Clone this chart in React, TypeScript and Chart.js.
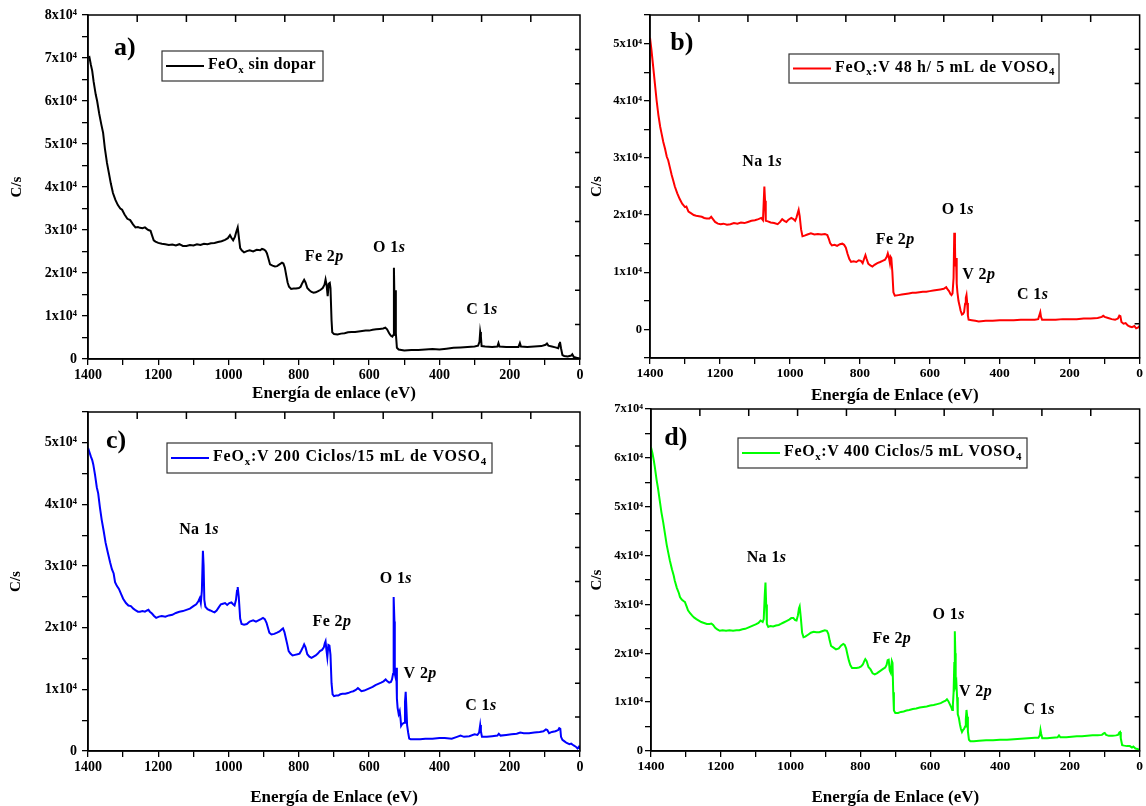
import React, { useEffect, useRef } from 'react';
import { Chart, registerables } from 'chart.js';

Chart.register(...registerables);

const FONT = '"Liberation Serif", "Times New Roman", serif';

// ---------------- DATA (binding energy eV, counts/s) ----------------
const spectrumA: [number, number][] = [
  [1400, 70000], [1396, 70200], [1392, 68500], [1388, 67000], [1384, 64500], [1378, 61500], [1374, 60000],
  [1368, 57000], [1362, 54500], [1357, 52600], [1352, 49000], [1346, 45600], [1340, 43000], [1335, 40800],
  [1329, 38600], [1322, 37000], [1315, 35800], [1308, 35000], [1303, 34700], [1296, 33600], [1288, 32600],
  [1280, 32300], [1272, 31300], [1265, 30600], [1258, 30700], [1252, 30500], [1245, 30400], [1238, 30600],
  [1232, 30200], [1228, 30000], [1222, 29800], [1218, 28800], [1213, 27600], [1208, 27300], [1200, 27000],
  [1190, 26800], [1180, 26700], [1170, 26500], [1160, 26600], [1150, 26400], [1140, 26700], [1130, 26300],
  [1120, 26300], [1110, 26500], [1100, 26400], [1090, 26700], [1080, 26500], [1070, 26800], [1060, 26700],
  [1050, 26900], [1040, 27000], [1030, 27200], [1020, 27400], [1010, 27700], [1002, 28100], [996, 28800],
  [992, 28200], [987, 27600], [982, 28400], [978, 29600], [974, 30600], [971, 28500], [967, 25800],
  [962, 25200], [956, 24800], [948, 25100], [940, 25300], [930, 25000], [920, 25400], [910, 25300],
  [905, 25600], [900, 25500], [895, 25200], [891, 24600], [887, 23500], [882, 22000], [875, 21700],
  [868, 21500], [862, 21600], [855, 22000], [848, 22400], [844, 22200], [840, 21300], [836, 19500],
  [832, 17800], [828, 16800], [822, 16300], [815, 16400], [808, 16400], [800, 16500], [795, 16800],
  [790, 17700], [785, 18400], [781, 17800], [776, 16500], [770, 16000], [764, 15600], [758, 15400],
  [752, 15500], [745, 15800], [738, 16100], [732, 16500], [727, 17300], [724, 18500], [721, 17200],
  [718, 14600], [715, 17500], [712, 17700], [710, 16500], [707, 9000], [705, 6200], [700, 5800],
  [690, 5700], [680, 5900], [670, 6000], [660, 6200], [650, 6300], [640, 6300], [630, 6400], [620, 6500],
  [610, 6600], [600, 6600], [590, 6800], [580, 6900], [570, 7000], [560, 7100], [554, 7300], [549, 6900],
  [543, 6000], [538, 5400], [534, 5200], [531, 5600], [529.5, 21200], [528, 14000], [526, 16000],
  [524, 6000], [521, 2600], [516, 2200], [500, 2000], [480, 2100], [460, 2100], [440, 2200], [420, 2300],
  [400, 2200], [380, 2400], [360, 2600], [340, 2700], [320, 2800], [300, 2900], [290, 3100], [286, 4000],
  [284, 6300], [282, 5200], [280, 3000], [270, 2900], [250, 2800], [235, 2900], [232, 3700], [229, 2900],
  [210, 2800], [190, 2800], [175, 2800], [171, 3700], [168, 2900], [150, 2800], [130, 2900], [110, 3000],
  [98, 3300], [94, 3600], [90, 3100], [80, 2900], [70, 2700], [62, 2500], [59, 3500], [57, 4000],
  [54, 2500], [50, 900], [45, 700], [35, 600], [25, 800], [22, 1100], [18, 500], [10, 300], [4, 200], [0, 100],
];

const spectrumB: [number, number][] = [
  [1400, 51000], [1396, 49000], [1391, 46000], [1386, 43000], [1381, 40000], [1376, 37500], [1371, 35500],
  [1367, 34300], [1362, 32800], [1357, 31600], [1352, 30200], [1348, 29600], [1343, 28300], [1338, 27000],
  [1333, 25900], [1329, 25000], [1322, 23800], [1315, 22800], [1308, 22000], [1300, 21400], [1296, 21500],
  [1290, 20600], [1282, 20300], [1275, 20000], [1268, 19900], [1260, 19800], [1252, 19700], [1245, 19500],
  [1238, 19400], [1230, 19400], [1225, 19700], [1220, 19300], [1214, 18800], [1206, 18500], [1198, 18400],
  [1190, 18500], [1180, 18300], [1170, 18400], [1160, 18600], [1150, 18500], [1140, 18700], [1130, 18600],
  [1120, 18800], [1110, 19000], [1100, 19100], [1090, 19300], [1082, 19500], [1077, 19100], [1075, 22000],
  [1073, 25000], [1071, 22500], [1069, 19000], [1063, 18900], [1055, 18700], [1045, 18600], [1035, 18400],
  [1028, 18800], [1022, 19300], [1016, 19000], [1010, 18800], [1004, 19200], [996, 19500], [990, 19300],
  [985, 19000], [981, 19600], [977, 20500], [975, 20900], [972, 19800], [968, 17500], [964, 16300],
  [958, 16400], [950, 16600], [940, 16800], [930, 16600], [920, 16700], [910, 16600], [900, 16700],
  [893, 16500], [889, 15900], [885, 15100], [880, 14700], [872, 14800], [865, 14600], [857, 14900],
  [850, 15000], [845, 14800], [840, 14300], [835, 13200], [830, 12300], [825, 11800], [818, 11900],
  [810, 11800], [803, 12100], [797, 12000], [792, 11600], [787, 12500], [784, 13000], [781, 12400],
  [776, 11500], [770, 11200], [764, 11000], [758, 11300], [750, 11600], [742, 11800], [735, 12000],
  [728, 12200], [723, 12700], [720, 13300], [717, 12600], [714, 11600], [712, 12700], [710, 12500],
  [707, 10000], [704, 6500], [700, 5900], [690, 6000], [680, 6100], [670, 6200], [660, 6300], [650, 6400],
  [640, 6400], [630, 6500], [620, 6600], [610, 6600], [600, 6700], [590, 6800], [580, 6900], [570, 7000],
  [560, 7100], [553, 7400], [549, 7000], [545, 6700], [541, 6200], [538, 6000], [535, 6300], [532, 9000],
  [530, 16900], [528, 15000], [527, 11000], [525, 12500], [523, 8000], [521, 6500], [518, 5000],
  [515, 4200], [512, 3300], [508, 2600], [505, 2700], [502, 3000], [499, 4500], [497, 5500], [495, 6000],
  [493, 4600], [491, 2400], [489, 1700], [480, 1600], [470, 1500], [460, 1400], [440, 1500], [420, 1500],
  [400, 1600], [380, 1600], [360, 1600], [340, 1700], [320, 1700], [300, 1700], [290, 1800], [286, 2600],
  [284, 3000], [282, 2200], [279, 1700], [260, 1700], [240, 1700], [220, 1800], [200, 1800], [180, 1800],
  [160, 1900], [140, 1900], [120, 2000], [108, 2200], [104, 2400], [100, 2200], [90, 2000], [80, 1800],
  [70, 1700], [62, 1900], [58, 2400], [55, 2300], [52, 1300], [46, 1000], [40, 1100], [34, 700], [28, 500],
  [22, 400], [15, 600], [10, 200], [5, 300], [0, 600],
];

const spectrumC: [number, number][] = [
  [1400, 49200], [1396, 48500], [1392, 47800], [1388, 47200], [1385, 46500], [1380, 44800], [1375, 42800],
  [1371, 41800], [1366, 39500], [1361, 37500], [1356, 35900], [1350, 33800], [1344, 32300], [1337, 30600],
  [1332, 29500], [1327, 28800], [1323, 27400], [1318, 26800], [1312, 26300], [1306, 25500], [1300, 24700],
  [1292, 24000], [1285, 23600], [1278, 23500], [1271, 23100], [1264, 22800], [1258, 22600], [1252, 22600],
  [1245, 22700], [1238, 22600], [1232, 22800], [1228, 22900], [1224, 22600], [1218, 22300], [1212, 21900],
  [1206, 21600], [1198, 21800], [1190, 21900], [1180, 21800], [1170, 22000], [1160, 22100], [1150, 22400],
  [1140, 22600], [1130, 22700], [1120, 22900], [1110, 23100], [1100, 23500], [1092, 23800], [1086, 24300],
  [1082, 24800], [1079, 24000], [1076, 26000], [1073, 32500], [1071, 30000], [1069, 24500], [1066, 23400],
  [1060, 23000], [1052, 22800], [1045, 22600], [1040, 22500], [1034, 22800], [1028, 23300], [1022, 23800],
  [1016, 23900], [1010, 24000], [1004, 23700], [998, 24000], [992, 24100], [987, 23800], [983, 23600],
  [979, 24500], [976, 26000], [974, 26600], [971, 25000], [967, 21500], [963, 20600], [956, 20500],
  [948, 20600], [940, 21000], [930, 21200], [922, 21000], [915, 21200], [908, 21400], [902, 21600],
  [897, 21400], [892, 20800], [888, 20000], [884, 19200], [878, 18900], [870, 19000], [862, 19200],
  [855, 19400], [849, 19700], [845, 19900], [841, 19300], [837, 18300], [833, 17300], [829, 16200],
  [824, 15800], [818, 15500], [811, 15600], [804, 15700], [798, 15800], [793, 16300], [788, 16900],
  [785, 17300], [781, 16800], [776, 15700], [770, 15300], [764, 15100], [758, 15300], [752, 15500],
  [746, 15800], [740, 16200], [734, 16400], [729, 16800], [726, 17500], [724, 17800], [722, 16600],
  [719, 15200], [716, 17200], [713, 17100], [710, 15600], [707, 11000], [704, 9200], [700, 8900],
  [694, 9000], [688, 9000], [682, 9200], [676, 9300], [668, 9300], [660, 9400], [652, 9600], [645, 9700],
  [638, 9900], [632, 10200], [628, 10000], [622, 9700], [614, 9800], [606, 10000], [598, 10200],
  [590, 10400], [582, 10700], [574, 10900], [566, 11100], [559, 11300], [553, 11600], [548, 11300],
  [543, 11100], [538, 11200], [535, 11600], [532, 12500], [531, 19000], [529.5, 25000], [528, 21000],
  [527, 12500], [525, 12000], [523, 13500], [521, 8500], [519, 7000], [516, 6000], [513, 6500], [511, 5500],
  [509, 4100], [506, 4400], [503, 4500], [500, 4600], [498, 8000], [496, 9600], [494, 7000], [492, 4200],
  [489, 3000], [486, 2000], [482, 1900], [470, 1900], [455, 1900], [440, 2000], [420, 2000], [400, 2100],
  [385, 2100], [365, 2000], [350, 2300], [340, 2500], [330, 2300], [315, 2400], [300, 2700], [292, 2600],
  [287, 3000], [284, 4200], [282, 3200], [279, 2300], [265, 2300], [250, 2400], [235, 2500], [231, 2800],
  [226, 2500], [210, 2600], [195, 2700], [180, 2800], [170, 3000], [160, 2900], [145, 2900], [130, 3000],
  [115, 3100], [104, 3200], [97, 3500], [93, 3400], [88, 2900], [80, 3100], [70, 3200], [62, 3400],
  [59, 3700], [56, 3600], [54, 2300], [50, 1800], [45, 1600], [38, 1300], [30, 1100], [25, 1200],
  [18, 900], [12, 700], [7, 400], [3, 700], [0, 300],
];

const spectrumD: [number, number][] = [
  [1400, 62200], [1396, 61000], [1392, 59500], [1389, 58100], [1384, 55500], [1380, 53800], [1375, 51300],
  [1370, 48800], [1365, 46800], [1360, 44500], [1355, 42200], [1350, 40400], [1346, 39000], [1340, 37200],
  [1335, 35900], [1332, 34900], [1326, 33400], [1320, 32300], [1317, 31500], [1312, 31000], [1307, 30700],
  [1303, 30500], [1298, 29600], [1294, 28800], [1288, 28200], [1282, 27700], [1276, 27300], [1270, 27000],
  [1263, 26700], [1256, 26400], [1248, 26200], [1240, 26000], [1232, 26000], [1227, 26100], [1222, 25800],
  [1216, 25200], [1210, 24900], [1203, 24600], [1195, 24700], [1185, 24600], [1175, 24700], [1165, 24600],
  [1155, 24700], [1147, 24700], [1138, 24900], [1130, 25000], [1120, 25300], [1110, 25600], [1100, 25900],
  [1092, 26200], [1086, 26700], [1080, 26400], [1077, 27000], [1074, 32000], [1072, 34500], [1070, 30000],
  [1068, 26000], [1064, 25400], [1058, 25600], [1050, 25500], [1042, 25700], [1034, 25800], [1028, 26000],
  [1020, 26300], [1012, 26600], [1004, 26900], [998, 27200], [992, 27200], [987, 26800], [983, 26700],
  [979, 27800], [976, 29200], [974, 29600], [971, 27500], [967, 24200], [963, 23300], [958, 23400],
  [950, 23800], [942, 24200], [934, 24400], [926, 24300], [918, 24300], [910, 24500], [902, 24700],
  [896, 24600], [892, 24000], [888, 22600], [884, 21500], [878, 21200], [870, 20800], [862, 21000],
  [855, 21600], [849, 21900], [845, 21700], [841, 21000], [837, 19700], [833, 18500], [829, 17600],
  [824, 17000], [818, 17000], [811, 17000], [804, 17100], [798, 17300], [793, 17700], [789, 18400],
  [786, 18800], [782, 18400], [777, 17200], [771, 16700], [765, 15900], [759, 15700], [753, 15900],
  [747, 16200], [741, 16500], [735, 16800], [729, 17100], [725, 17600], [722, 18600], [719, 18700],
  [716, 16500], [713, 16000], [710, 18400], [708, 18000], [706, 12000], [704, 8300], [700, 7800],
  [692, 7800], [684, 8000], [676, 8100], [668, 8300], [660, 8400], [650, 8600], [640, 8700], [630, 8900],
  [620, 9000], [610, 9100], [600, 9300], [590, 9400], [580, 9600], [570, 9800], [562, 10100], [556, 10300],
  [552, 10600], [548, 10200], [544, 9600], [540, 9000], [537, 8400], [535, 9500], [533, 12000],
  [531, 18000], [529.5, 24500], [528, 20000], [527, 13500], [525, 14000], [523, 11000], [521, 7500],
  [518, 6800], [515, 5500], [512, 4500], [509, 3900], [506, 4300], [503, 4500], [500, 5000], [498, 6500],
  [496, 8400], [494, 7000], [492, 4000], [489, 2300], [485, 2000], [475, 2000], [460, 2100], [440, 2200],
  [420, 2200], [400, 2300], [380, 2300], [360, 2400], [340, 2500], [320, 2600], [300, 2700], [290, 2700],
  [286, 3200], [284, 4300], [282, 3500], [279, 2600], [265, 2600], [250, 2700], [235, 2800], [231, 3200],
  [227, 2800], [210, 2800], [195, 2900], [180, 3000], [165, 3000], [150, 3100], [135, 3200], [120, 3200],
  [108, 3300], [103, 3600], [100, 3700], [96, 3300], [88, 3100], [78, 3100], [68, 3200], [62, 3300],
  [58, 3800], [56, 3900], [54, 2600], [50, 1200], [44, 1100], [36, 1000], [28, 1000], [22, 700], [18, 900],
  [12, 500], [6, 400], [0, 200],
];

// axis ranges
const xRange = [0, 1400];
const yRangeA = [0, 80000];
const yRangeB = [-5000, 55000];
const yRangeC = [0, 55000];
const yRangeD = [0, 70000];

// ---------------- TEXT ----------------
type Seg = { t: string; it?: boolean; sub?: boolean };
type Ann = { x: number; y: number; segs: Seg[]; size: number };

const nuc = (a: string, b: string): Seg[] => [{ t: a }, { t: b, it: true }];

const peaksA: Ann[] = [
  { x: 1295, y: 72300, segs: [{ t: 'a)' }], size: 26 },
  { x: 728, y: 23700, segs: nuc('Fe 2', 'p'), size: 16 },
  { x: 543, y: 25800, segs: nuc('O 1', 's'), size: 16 },
  { x: 279, y: 11400, segs: nuc('C 1', 's'), size: 16 },
];
const peaksB: Ann[] = [
  { x: 1309, y: 50000, segs: [{ t: 'b)' }], size: 26 },
  { x: 1079, y: 29300, segs: nuc('Na 1', 's'), size: 16 },
  { x: 699, y: 15700, segs: nuc('Fe 2', 'p'), size: 16 },
  { x: 520, y: 20900, segs: nuc('O 1', 's'), size: 16 },
  { x: 460, y: 9600, segs: nuc('V 2', 'p'), size: 16 },
  { x: 306, y: 6100, segs: nuc('C 1', 's'), size: 16 },
];
const peaksC: Ann[] = [
  { x: 1320, y: 50200, segs: [{ t: 'c)' }], size: 26 },
  { x: 1084, y: 35900, segs: nuc('Na 1', 's'), size: 16 },
  { x: 706, y: 21000, segs: nuc('Fe 2', 'p'), size: 16 },
  { x: 524, y: 27900, segs: nuc('O 1', 's'), size: 16 },
  { x: 455, y: 12500, segs: nuc('V 2', 'p'), size: 16 },
  { x: 282, y: 7400, segs: nuc('C 1', 's'), size: 16 },
];
const peaksD: Ann[] = [
  { x: 1329, y: 64000, segs: [{ t: 'd)' }], size: 26 },
  { x: 1069, y: 39500, segs: nuc('Na 1', 's'), size: 16 },
  { x: 710, y: 22900, segs: nuc('Fe 2', 'p'), size: 16 },
  { x: 547, y: 27800, segs: nuc('O 1', 's'), size: 16 },
  { x: 470, y: 12100, segs: nuc('V 2', 'p'), size: 16 },
  { x: 288, y: 8400, segs: nuc('C 1', 's'), size: 16 },
];

const legendA: Seg[] = [{ t: 'FeO' }, { t: 'x', sub: true }, { t: ' sin dopar' }];
const legendB: Seg[] = [{ t: 'FeO' }, { t: 'x', sub: true }, { t: ':V 48 h/ 5 mL de VOSO' }, { t: '4', sub: true }];
const legendC: Seg[] = [{ t: 'FeO' }, { t: 'x', sub: true }, { t: ':V 200 Ciclos/15 mL de VOSO' }, { t: '4', sub: true }];
const legendD: Seg[] = [{ t: 'FeO' }, { t: 'x', sub: true }, { t: ':V 400 Ciclos/5 mL VOSO' }, { t: '4', sub: true }];

// ---------------- DRAW HELPERS ----------------
function segFont(s: Seg, size: number) {
  const fs = s.sub ? size * 0.68 : size;
  return `${s.it ? 'italic ' : ''}bold ${fs}px ${FONT}`;
}

function drawSegs(ctx: CanvasRenderingContext2D, segs: Seg[], x: number, y: number, size: number, align: 'center' | 'left', spacing = 0) {
  (ctx as any).letterSpacing = `${spacing}px`;
  const parts = segs.map((s) => {
    ctx.font = segFont(s, size);
    return { s, font: ctx.font, w: ctx.measureText(s.t).width };
  });
  const total = parts.reduce((a, p) => a + p.w, 0);
  let cx = align === 'center' ? x - total / 2 : x;
  ctx.textAlign = 'left';
  ctx.textBaseline = 'middle';
  for (const p of parts) {
    ctx.font = p.font;
    ctx.fillText(p.s.t, cx, y + (p.s.sub ? size * 0.3 : 0));
    cx += p.w;
  }
  (ctx as any).letterSpacing = '0px';
  return total;
}

function measureSegs(ctx: CanvasRenderingContext2D, segs: Seg[], size: number) {
  let t = 0;
  let n = 0;
  for (const s of segs) {
    ctx.font = segFont(s, size);
    t += ctx.measureText(s.t).width;
    n += s.t.length;
  }
  return { w: t, n };
}

type PanelCfg = {
  key: string;
  left: number; top: number; w: number; h: number;
  yWidth: number; xHeight: number; padTop: number; padRight: number;
  yRange: number[];
  data: [number, number][];
  color: string;
  peaks: Ann[];
  legend: Seg[];
  legendBox: { dx: number; dy: number; w: number; h: number; textW: number };
  xTitle: string; xTitlePad: number; yTitlePad: number;
  yTickSize: number; xTickSize: number; yTickPad: number;
};

const panels: PanelCfg[] = [
  {
    key: 'a', left: 0, top: 0, w: 590, h: 405, yWidth: 88, xHeight: 46, padTop: 15, padRight: 10,
    yRange: yRangeA, data: spectrumA, color: '#000000', peaks: peaksA, legend: legendA,
    legendBox: { dx: 74, dy: 36, w: 161, h: 30, textW: 108 },
    xTitle: 'Energía de enlace (eV)', xTitlePad: 3, yTitlePad: 10, yTickSize: 14, xTickSize: 14, yTickPad: 5,
  },
  {
    key: 'b', left: 590, top: 0, w: 556, h: 405, yWidth: 60, xHeight: 47, padTop: 15, padRight: 4,
    yRange: yRangeB, data: spectrumB, color: '#ff0000', peaks: peaksB, legend: legendB,
    legendBox: { dx: 139, dy: 39, w: 270, h: 29, textW: 220 },
    xTitle: 'Energía de Enlace (eV)', xTitlePad: 1, yTitlePad: 0, yTickSize: 12.5, xTickSize: 13.5, yTickPad: 2,
  },
  {
    key: 'c', left: 0, top: 400, w: 590, h: 406, yWidth: 88, xHeight: 55, padTop: 8, padRight: 10,
    yRange: yRangeC, data: spectrumC, color: '#0000ff', peaks: peaksC, legend: legendC,
    legendBox: { dx: 79, dy: 31, w: 325, h: 30, textW: 274 },
    xTitle: 'Energía de Enlace (eV)', xTitlePad: 0, yTitlePad: 9, yTickSize: 14, xTickSize: 14, yTickPad: 5,
  },
  {
    key: 'd', left: 590, top: 400, w: 556, h: 406, yWidth: 61, xHeight: 55, padTop: 9, padRight: 4,
    yRange: yRangeD, data: spectrumD, color: '#00ff00', peaks: peaksD, legend: legendD,
    legendBox: { dx: 87, dy: 29, w: 289, h: 30, textW: 238 },
    xTitle: 'Energía de Enlace (eV)', xTitlePad: 0, yTitlePad: 0, yTickSize: 12.5, xTickSize: 13.5, yTickPad: 2,
  },
];

function Panel({ cfg }: { cfg: PanelCfg }) {
  const ref = useRef<HTMLCanvasElement>(null);
  useEffect(() => {
    const decor = {
      id: 'decor' + cfg.key,
      afterDatasetsDraw(chart: any) {
        const { ctx, chartArea: a, scales } = chart;
        const xs = scales.x;
        const ys = scales.y;
        ctx.save();
        // frame with inward ticks on top and right
        ctx.strokeStyle = '#000';
        ctx.lineWidth = 1.5;
        ctx.strokeRect(a.left, a.top, a.right - a.left, a.bottom - a.top);
        ctx.beginPath();
        for (let i = 1; i < 10; i++) {
          const x = a.left + ((a.right - a.left) * i) / 10;
          ctx.moveTo(x, a.top);
          ctx.lineTo(x, a.top + 7);
          const y = a.top + ((a.bottom - a.top) * i) / 10;
          ctx.moveTo(a.right, y);
          ctx.lineTo(a.right - 5, y);
        }
        ctx.stroke();
        // peak labels
        ctx.fillStyle = '#000';
        for (const p of cfg.peaks) {
          drawSegs(ctx, p.segs, xs.getPixelForValue(p.x), ys.getPixelForValue(p.y), p.size, 'center', p.size > 20 ? 0 : 0.4);
        }
        // legend
        const lb = cfg.legendBox;
        const bx = a.left + lb.dx;
        const by = a.top + lb.dy;
        ctx.fillStyle = '#fff';
        ctx.fillRect(bx, by, lb.w, lb.h);
        ctx.strokeStyle = '#333';
        ctx.lineWidth = 1.2;
        ctx.strokeRect(bx, by, lb.w, lb.h);
        ctx.strokeStyle = cfg.color;
        ctx.lineWidth = 2;
        ctx.beginPath();
        ctx.moveTo(bx + 4, by + lb.h / 2);
        ctx.lineTo(bx + 42, by + lb.h / 2);
        ctx.stroke();
        ctx.fillStyle = '#000';
        const m = measureSegs(ctx, cfg.legend, 16);
        const sp = Math.min(1.2, Math.max(0, (lb.textW - m.w) / m.n));
        drawSegs(ctx, cfg.legend, bx + 46, by + lb.h / 2 - 1, 16, 'left', sp);
        ctx.restore();
      },
    };

    const chart = new Chart(ref.current!, {
      type: 'line',
      data: {
        datasets: [
          {
            data: cfg.data.map(([x, y]) => ({ x, y })),
            borderColor: cfg.color,
            borderWidth: 2,
            pointRadius: 0,
            tension: 0,
            fill: false,
          },
        ],
      },
      options: {
        animation: false,
        responsive: false,
        devicePixelRatio: 1,
        layout: { padding: { top: cfg.padTop, right: cfg.padRight, left: 0, bottom: 0 } },
        plugins: { legend: { display: false }, tooltip: { enabled: false } },
        scales: {
          x: {
            type: 'linear',
            reverse: true,
            min: xRange[0],
            max: xRange[1],
            afterFit: (s: any) => { s.height = cfg.xHeight; },
            ticks: {
              stepSize: 100,
              autoSkip: false,
              maxRotation: 0,
              padding: 3,
              color: '#000',
              font: { family: FONT, size: cfg.xTickSize, weight: 'bold', lineHeight: 1 },
              callback: (v: any) => (Number(v) % 200 === 0 ? String(v) : ''),
            },
            grid: { drawOnChartArea: false, drawTicks: true, tickLength: 6, color: '#000', lineWidth: 1.3 },
            border: { display: true, color: '#000', width: 1.5 },
            title: {
              display: true,
              text: cfg.xTitle,
              color: '#000',
              font: { family: FONT, size: 17, weight: 'bold', lineHeight: 1 },
              padding: { top: 0, bottom: cfg.xTitlePad },
            },
          },
          y: {
            type: 'linear',
            min: cfg.yRange[0],
            max: cfg.yRange[1],
            afterFit: (s: any) => { s.width = cfg.yWidth; },
            ticks: {
              stepSize: 5000,
              autoSkip: false,
              padding: cfg.yTickPad,
              color: '#000',
              font: { family: FONT, size: cfg.yTickSize, weight: 'bold', lineHeight: 1 },
              callback: (v: any) => {
                const n = Number(v);
                if (n % 10000 !== 0) return '';
                if (n === 0) return '0';
                return `${n / 10000}x10\u2074`;
              },
            },
            grid: { drawOnChartArea: false, drawTicks: true, tickLength: 6, color: '#000', lineWidth: 1.3 },
            border: { display: true, color: '#000', width: 1.5 },
            title: {
              display: true,
              text: 'C/s',
              color: '#000',
              font: { family: FONT, size: 15, weight: 'bold', lineHeight: 1 },
              padding: { top: cfg.yTitlePad, bottom: 0 },
            },
          },
        },
      } as any,
      plugins: [decor],
    });
    return () => chart.destroy();
  }, [cfg]);
  return (
    <canvas
      ref={ref}
      width={cfg.w}
      height={cfg.h}
      style={{ position: 'absolute', left: cfg.left, top: cfg.top, width: cfg.w, height: cfg.h }}
    />
  );
}

export default function App() {
  return (
    <div style={{ position: 'absolute', left: 0, top: 0, width: 1146, height: 806, background: '#fff' }}>
      {panels.map((p) => (
        <Panel key={p.key} cfg={p} />
      ))}
    </div>
  );
}
